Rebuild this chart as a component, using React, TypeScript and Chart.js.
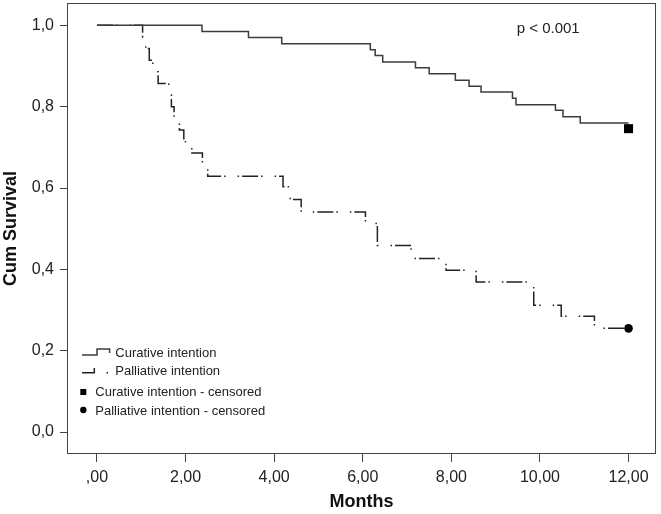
import React, { useEffect, useRef } from 'react';
import { Chart, registerables } from 'chart.js';

Chart.register(...registerables);

// ---- Data ----
const curativeTimes = [0, 2.37, 3.42, 4.17, 6.17, 6.28, 6.45, 7.19, 7.5, 8.09, 8.4, 8.67, 9.38, 9.46, 10.35, 10.52, 10.91, 12.0];
const curativeSurvival = [1.0, 0.985, 0.97, 0.955, 0.94, 0.926, 0.91, 0.896, 0.881, 0.865, 0.85, 0.836, 0.821, 0.805, 0.791, 0.775, 0.76, 0.76];

const palliativeTimes = [0, 1.03, 1.1, 1.18, 1.26, 1.38, 1.62, 1.68, 1.74, 1.86, 1.96, 2.14, 2.38, 2.5, 4.2, 4.36, 4.61, 6.06, 6.33, 7.09, 7.88, 8.56, 9.86, 10.48, 11.23, 12.0];
const palliativeSurvival = [1.0, 0.971, 0.943, 0.914, 0.886, 0.857, 0.829, 0.8, 0.771, 0.743, 0.714, 0.686, 0.657, 0.629, 0.603, 0.572, 0.541, 0.513, 0.459, 0.427, 0.398, 0.369, 0.312, 0.285, 0.255, 0.255];

const curativeCensoredTimes = [12.0];
const curativeCensoredSurvival = [0.746];
const palliativeCensoredTimes = [12.0];
const palliativeCensoredSurvival = [0.255];

const xTickValues = [0, 2, 4, 6, 8, 10, 12];
const xTickLabels = [',00', '2,00', '4,00', '6,00', '8,00', '10,00', '12,00'];
const yTickValues = [0, 0.2, 0.4, 0.6, 0.8, 1.0];
const yTickLabels = ['0,0', '0,2', '0,4', '0,6', '0,8', '1,0'];

const seriesNames = ['Curative intention', 'Palliative intention'];
const censoredNames = ['Curative intention - censored', 'Palliative intention - censored'];
const pValueText = 'p < 0.001';
const xTitle = 'Months';
const yTitle = 'Cum Survival';

const FONT = "'Liberation Sans', Arial, Helvetica, sans-serif";
const CUR_COLOR = '#3c3c3c';
const PAL_COLOR = '#222222';
const PAL_DASH = [16, 3, 1.5, 12, 1.5, 3];

const toPoints = (xs: number[], ys: number[]) => xs.map((x, i) => ({ x, y: ys[i] }));

const overlayPlugin = {
  id: 'overlay',
  afterDraw(chart: any) {
    const { ctx, chartArea: a } = chart;
    ctx.save();
    // frame
    ctx.strokeStyle = '#444';
    ctx.lineWidth = 1;
    ctx.strokeRect(Math.round(a.left) + 0.5, Math.round(a.top) + 0.5, Math.round(a.right - a.left) - 1, Math.round(a.bottom - a.top) - 1);

    // p-value
    ctx.fillStyle = '#222';
    ctx.textBaseline = 'middle';
    ctx.textAlign = 'left';
    ctx.font = `15px ${FONT}`;
    ctx.fillText(pValueText, a.right - 139.3, a.top + 25.6);

    // legend
    const lx = a.left;
    const b = a.bottom;
    ctx.font = `13px ${FONT}`;
    // curative line icon
    ctx.strokeStyle = CUR_COLOR;
    ctx.lineWidth = 1.5;
    ctx.setLineDash([]);
    ctx.beginPath();
    ctx.moveTo(lx + 15, b - 99);
    ctx.lineTo(lx + 30, b - 99);
    ctx.lineTo(lx + 30, b - 105);
    ctx.lineTo(lx + 42.6, b - 105);
    ctx.lineTo(lx + 42.6, b - 101);
    ctx.stroke();
    ctx.fillText(seriesNames[0], lx + 48.3, b - 100.7);
    // palliative line icon
    ctx.strokeStyle = PAL_COLOR;
    ctx.beginPath();
    ctx.moveTo(lx + 15, b - 81.3);
    ctx.lineTo(lx + 27.3, b - 81.3);
    ctx.lineTo(lx + 27.3, b - 86);
    ctx.stroke();
    ctx.fillStyle = PAL_COLOR;
    ctx.fillRect(lx + 39.5, b - 82, 1.5, 1.5);
    ctx.fillStyle = '#222';
    ctx.fillText(seriesNames[1], lx + 48.3, b - 82.3);
    // censored markers
    ctx.fillStyle = '#000';
    ctx.fillRect(lx + 13.3, b - 65, 6, 6);
    ctx.beginPath();
    ctx.arc(lx + 16.3, b - 44, 3.2, 0, Math.PI * 2);
    ctx.fill();
    ctx.fillStyle = '#222';
    ctx.fillText(censoredNames[0], lx + 28.3, b - 61.3);
    ctx.fillText(censoredNames[1], lx + 28.3, b - 43);
    ctx.restore();
  },
};

export default function App() {
  const canvasRef = useRef<HTMLCanvasElement | null>(null);

  useEffect(() => {
    document.body.style.margin = '0';
    document.body.style.overflow = 'hidden';
    const canvas = canvasRef.current;
    if (!canvas) return;
    const chart = new Chart(canvas, {
      type: 'line',
      data: {
        datasets: [
          {
            label: seriesNames[0],
            data: toPoints(curativeTimes, curativeSurvival),
            stepped: 'before',
            borderColor: CUR_COLOR,
            borderWidth: 1.5,
            pointRadius: 0,
            fill: false,
            order: 1,
          },
          {
            label: seriesNames[1],
            data: toPoints(palliativeTimes, palliativeSurvival),
            stepped: 'before',
            borderColor: PAL_COLOR,
            borderWidth: 1.5,
            borderDash: PAL_DASH,
            pointRadius: 0,
            fill: false,
            order: 2,
          },
          {
            type: 'scatter',
            label: censoredNames[0],
            data: toPoints(curativeCensoredTimes, curativeCensoredSurvival),
            pointStyle: 'rect',
            pointRadius: 6.4,
            backgroundColor: '#000',
            borderColor: '#000',
            borderWidth: 0,
            showLine: false,
            order: 0,
          } as any,
          {
            type: 'scatter',
            label: censoredNames[1],
            data: toPoints(palliativeCensoredTimes, palliativeCensoredSurvival),
            pointStyle: 'circle',
            pointRadius: 4.3,
            backgroundColor: '#000',
            borderColor: '#000',
            borderWidth: 0,
            showLine: false,
            order: 0,
          } as any,
        ],
      },
      options: {
        responsive: false,
        animation: false,
        devicePixelRatio: 1,
        layout: { autoPadding: false, padding: { top: 3, right: 5, left: 0, bottom: 0 } },
        plugins: { legend: { display: false }, tooltip: { enabled: false } },
        scales: {
          x: {
            type: 'linear',
            min: -0.677,
            max: 12.62,
            afterBuildTicks: (s: any) => {
              s.ticks = xTickValues.map((v) => ({ value: v }));
            },
            afterFit: (s: any) => {
              s.height = 60;
              s.paddingLeft = 0;
              s.paddingRight = 0;
              s.paddingTop = 0;
              s.paddingBottom = 0;
            },
            ticks: {
              autoSkip: false,
              maxRotation: 0,
              padding: 6,
              color: '#222',
              font: { family: FONT, size: 16 },
              callback: (v: any) => {
                const i = xTickValues.indexOf(Number(v));
                return i >= 0 ? xTickLabels[i] : '';
              },
            },
            grid: { display: true, drawOnChartArea: false, drawTicks: true, tickLength: 8, color: '#444', lineWidth: 1 },
            border: { display: false },
            title: { display: true, text: xTitle, color: '#111', font: { family: FONT, size: 18, weight: 'bold' }, padding: { top: 0, bottom: 1 } },
          },
          y: {
            type: 'linear',
            min: -0.054,
            max: 1.055,
            afterBuildTicks: (s: any) => {
              s.ticks = yTickValues.map((v) => ({ value: v }));
            },
            afterFit: (s: any) => {
              s.width = 67;
              s.paddingTop = 0;
              s.paddingBottom = 0;
              s.paddingLeft = 0;
              s.paddingRight = 0;
            },
            ticks: {
              autoSkip: false,
              padding: 6,
              color: '#222',
              font: { family: FONT, size: 16 },
              callback: (v: any) => {
                const i = yTickValues.findIndex((t) => Math.abs(t - Number(v)) < 1e-6);
                return i >= 0 ? yTickLabels[i] : '';
              },
            },
            grid: { display: true, drawOnChartArea: false, drawTicks: true, tickLength: 7, color: '#444', lineWidth: 1 },
            border: { display: false },
            title: { display: true, text: yTitle, color: '#111', font: { family: FONT, size: 18, weight: 'bold' }, padding: { top: 0, bottom: 0 } },
          },
        },
      },
      plugins: [overlayPlugin],
    } as any);
    return () => chart.destroy();
  }, []);

  return (
    <div style={{ width: 661, height: 514, background: '#fff' }}>
      <canvas ref={canvasRef} width={661} height={514} style={{ display: 'block' }} />
    </div>
  );
}
